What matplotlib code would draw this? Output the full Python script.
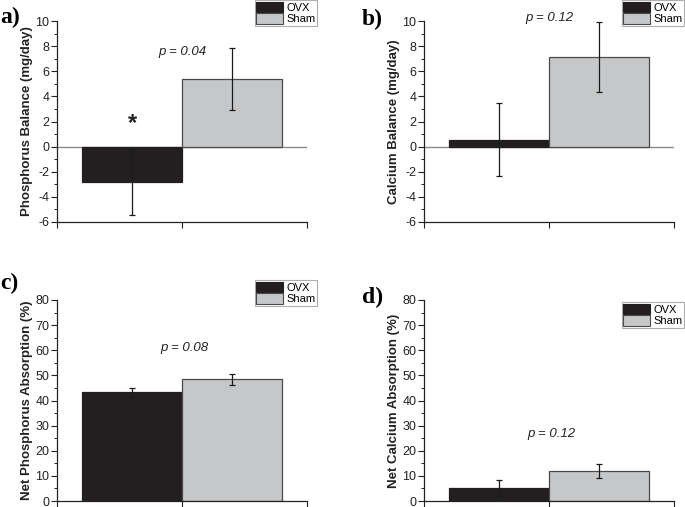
import matplotlib
matplotlib.use("Agg")
import matplotlib.pyplot as plt
from matplotlib.ticker import MultipleLocator
from matplotlib.patches import Patch

plt.rcParams['font.family'] = ['Liberation Sans', 'DejaVu Sans']
plt.rcParams['axes.unicode_minus'] = False

groups = ["OVX", "Sham"]
colors = ["#231f20", "#c6c7c8"]

p_balance = [-2.8, 5.4]
p_balance_err = [2.64, 2.45]
ca_balance = [0.55, 7.12]
ca_balance_err = [2.9, 2.8]
p_absorb = [43.2, 48.4]
p_absorb_err = [1.7, 2.2]
ca_absorb = [5.1, 12.0]
ca_absorb_err = [3.3, 2.65]

panels = [
    dict(tag="a)", vals=p_balance, err=p_balance_err, ylabel="Phosphorus Balance (mg/day)",
         ylim=(-6, 10), major=2, minor=1, ptext="p = 0.04", pxy=(0.0, 7.5), star=True, zero=True),
    dict(tag="b)", vals=ca_balance, err=ca_balance_err, ylabel="Calcium Balance (mg/day)",
         ylim=(-6, 10), major=2, minor=1, ptext="p = 0.12", pxy=(0.0, 10.2), star=False, zero=True),
    dict(tag="c)", vals=p_absorb, err=p_absorb_err, ylabel="Net Phosphorus Absorption (%)",
         ylim=(0, 80), major=10, minor=5, ptext="p = 0.08", pxy=(0.02, 61), star=False, zero=False),
    dict(tag="d)", vals=ca_absorb, err=ca_absorb_err, ylabel="Net Calcium Absorption (%)",
         ylim=(0, 80), major=10, minor=5, ptext="p = 0.12", pxy=(0.02, 26.5), star=False, zero=False),
]

W, H = 685, 507
fig = plt.figure(figsize=(6.85, 5.07), dpi=100)

ax_rects = [
    (57, 21, 250, 201),
    (424, 21, 250, 201),
    (57, 300, 250, 201),
    (424, 300, 250, 201),
]
tag_pos = [(0, 17), (362, 19), (0, 283), (362, 297)]
legend_pos = [(317, 0), (684, 0), (317, 280), (684, 302)]

xpos = [-0.5, 0.5]

for i, p in enumerate(panels):
    x0, y0, w, h = ax_rects[i]
    ax = fig.add_axes([x0 / W, 1 - (y0 + h) / H, w / W, h / H])
    ax.bar(xpos, p["vals"], width=1.0, color=colors,
           edgecolor=["#231f20", "#4a4a4a"], linewidth=0.9, zorder=2)
    ax.errorbar(xpos, p["vals"], yerr=p["err"], fmt="none", ecolor="#1a1a1a",
                elinewidth=0.9, capsize=2.5, capthick=0.9, zorder=3)
    if p["zero"]:
        ax.axhline(0, color="#8a8a8a", linewidth=1.0, zorder=1)
    ax.set_xlim(-1.25, 1.25)
    ax.set_ylim(*p["ylim"])
    ax.set_xticks([-1.25, 0, 1.25])
    ax.set_xticklabels([])
    ax.yaxis.set_major_locator(MultipleLocator(p["major"]))
    ax.yaxis.set_minor_locator(MultipleLocator(p["minor"]))
    ax.tick_params(axis="y", which="major", direction="out", length=4, width=0.8,
                   labelsize=9, pad=1.5, colors="#222222")
    ax.tick_params(axis="y", which="minor", direction="out", length=2, width=0.7, colors="#222222")
    ax.tick_params(axis="x", which="major", direction="out", length=4, width=0.8, colors="#222222")
    for s in ["top", "right"]:
        ax.spines[s].set_visible(False)
    for s in ["left", "bottom"]:
        ax.spines[s].set_linewidth(0.9)
        ax.spines[s].set_color("#222222")
    ax.set_ylabel(p["ylabel"], fontsize=9.5, fontweight="bold", labelpad=2, color="#222222")
    ax.text(p["pxy"][0], p["pxy"][1], p["ptext"], fontsize=9.5, style="italic",
            ha="center", va="center", color="#222222")
    if p["star"]:
        ax.text(-0.5, 1.8, "*", fontsize=17, fontweight="bold", ha="center", va="center",
                color="#222222")
    tx, ty = tag_pos[i]
    fig.text(tx / W, 1 - ty / H, p["tag"], fontsize=17, fontweight="bold",
             family=["Liberation Serif", "DejaVu Serif"], ha="left", va="center")
    lx, ly = legend_pos[i]
    handles = [Patch(facecolor=colors[0], edgecolor="#231f20", linewidth=0.8),
               Patch(facecolor=colors[1], edgecolor="#4a4a4a", linewidth=0.8)]
    leg = fig.legend(handles, groups, loc="upper right",
                     bbox_to_anchor=(lx / W, 1 - ly / H), fontsize=8,
                     frameon=True, fancybox=False, edgecolor="#999999",
                     borderpad=0.15, handlelength=2.4, handleheight=1.1,
                     handletextpad=0.3, labelspacing=0.05, borderaxespad=0.0)
    leg.get_frame().set_linewidth(0.8)

fig.savefig("out.png", dpi=100)
